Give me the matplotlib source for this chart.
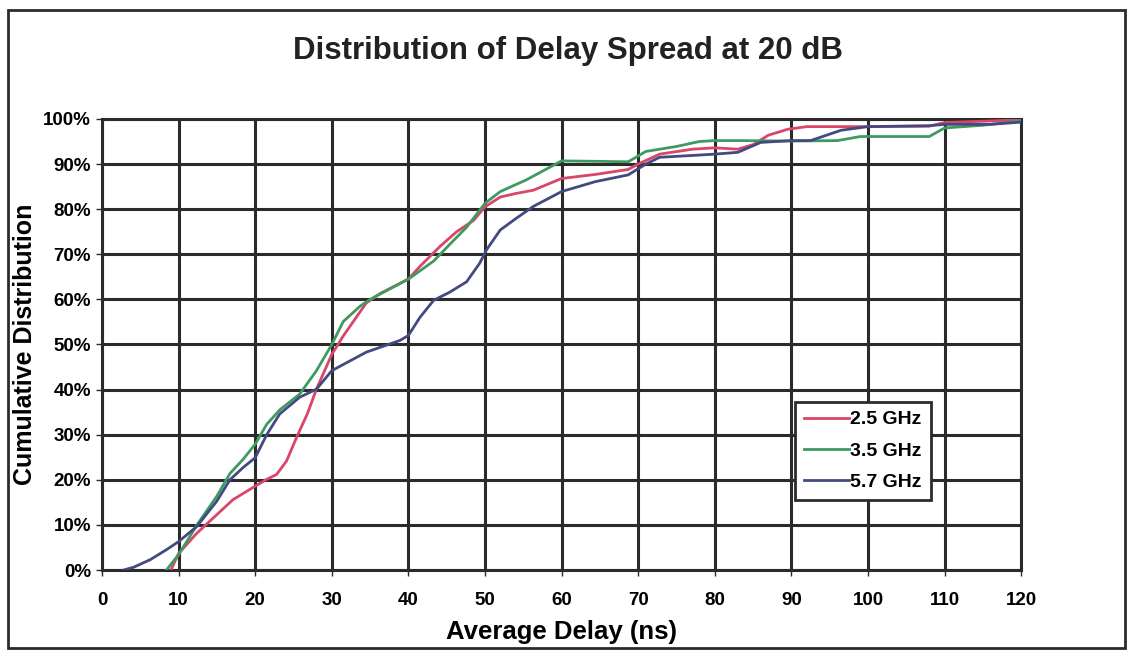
import matplotlib as mpl
mpl.use('Agg')
import matplotlib.pyplot as plt
from matplotlib.patches import Rectangle

# Values (delay in ns, cumulative distribution in %)
x_25 = [9, 10, 12.4, 15, 17.1, 20, 21.5, 22.8, 24.1, 25.4, 26.8, 28, 30, 31.5, 34.5, 36.3,
        40, 41.5, 44.1, 46.3, 48.5, 50, 52, 54.1, 56.3, 60, 64.4, 68.7, 70, 72.8, 77.1,
        80, 83, 85, 87, 89.5, 92, 100, 108, 110, 115, 120]
y_25 = [0, 3.7, 8.2, 12.3, 15.6, 18.6, 20.1, 21.2, 24.2, 29.4, 34.6, 40.1, 47.8, 51.9, 59.2, 61.3,
        64.5, 67.3, 71.7, 75, 77.5, 80.5, 82.7, 83.5, 84.2, 86.8, 87.7, 88.8, 90, 92.2, 93.3,
        93.6, 93.3, 94.3, 96.4, 97.7, 98.3, 98.3, 98.4, 99.2, 99.5, 99.8]

x_35 = [8.4, 10, 12.4, 15, 16.7, 18.4, 20, 21.5, 23.2, 25.8, 28, 30, 31.5, 33.7, 35, 40, 43.3,
        45.4, 47.6, 50, 52, 55.4, 60, 65, 68.7, 71, 75, 78, 80, 83.4, 90, 96, 99, 108, 110,
        115, 120]
y_35 = [0, 3.4, 10, 16.4, 21.4, 24.5, 27.9, 32.3, 35.5, 39, 44.2, 50, 55.1, 58.5, 60, 64.5, 68.5,
        72.2, 76, 81.3, 83.9, 86.5, 90.7, 90.6, 90.5, 92.8, 93.9, 95, 95.2, 95.2, 95.1, 95.2,
        96.1, 96.1, 98, 98.6, 99.6]

x_57 = [2.8, 4.1, 6.3, 8.4, 10, 12.4, 15, 16.7, 18.4, 20, 21.5, 23.2, 25.8, 28, 30, 34.5, 38.9,
        40, 41.5, 43.3, 45.4, 47.6, 49.3, 50.2, 52, 54.1, 56.3, 60, 64.4, 68.7, 71, 72.8, 77,
        80, 83, 86, 90, 92.5, 96.5, 100, 108, 110, 116, 120]
y_57 = [0, 0.6, 2.3, 4.5, 6.3, 9.7, 15.3, 20, 22.7, 24.9, 30, 34.6, 38.3, 40.1, 44.2, 48.3, 50.9,
        52, 56, 59.8, 61.6, 63.9, 68, 71, 75.4, 78, 80.6, 83.9, 86.1, 87.6, 90, 91.5, 91.9,
        92.2, 92.6, 94.8, 95.2, 95.2, 97.5, 98.3, 98.5, 98.8, 98.8, 99.3]

series_names = ['2.5 GHz', '3.5 GHz', '5.7 GHz']
x_ticks = list(range(0, 121, 10))
y_ticks = list(range(0, 101, 10))
y_tick_labels = [str(v) + '%' for v in y_ticks]

plt.rcParams['font.family'] = ['Liberation Sans', 'DejaVu Sans']
plt.rcParams['font.weight'] = 'bold'

fig = plt.figure(figsize=(11.32, 6.5), dpi=100)
ax = fig.add_axes([0.0901, 0.123, 0.812, 0.694])

grid_col = '#2b2b2b'
ax.plot(x_25, y_25, color='#d9466a', linewidth=2, label=series_names[0], zorder=3)
ax.plot(x_35, y_35, color='#3f9a62', linewidth=2, label=series_names[1], zorder=3)
ax.plot(x_57, y_57, color='#434a80', linewidth=2, label=series_names[2], zorder=3)

ax.set_xlim(0, 120)
ax.set_ylim(0, 100)
ax.set_xticks(x_ticks)
ax.set_yticks(y_ticks)
ax.set_yticklabels(y_tick_labels)
ax.tick_params(labelsize=13.5, length=4, width=1, color=grid_col)
ax.tick_params(axis='x', pad=12)
ax.tick_params(axis='y', pad=4)
ax.grid(True, color=grid_col, linewidth=2.2)
ax.set_axisbelow(True)
for sp in ax.spines.values():
    sp.set_linewidth(2.2)
    sp.set_color(grid_col)

ax.set_xlabel('Average Delay (ns)', fontsize=18.5, fontweight='bold', labelpad=8)
ax.set_ylabel('Cumulative Distribution', fontsize=18, fontweight='bold', labelpad=4)
fig.text(0.502, 0.922, 'Distribution of Delay Spread at 20 dB', fontsize=22.5,
         fontweight='bold', ha='center', va='center', color='#222222')

leg = ax.legend(loc='upper left', bbox_to_anchor=(0.754, 0.3725), fancybox=False,
                framealpha=1, edgecolor=grid_col, fontsize=14, handlelength=2.3,
                handletextpad=0.1, borderpad=0.45, labelspacing=0.7, borderaxespad=0)
leg.get_frame().set_linewidth(2)

# outer border around the whole chart
fig.patches.append(Rectangle((0.007, 0.003), 0.987, 0.982, transform=fig.transFigure,
                             fill=False, linewidth=2, edgecolor=grid_col))

plt.savefig('out.png', dpi=100)
